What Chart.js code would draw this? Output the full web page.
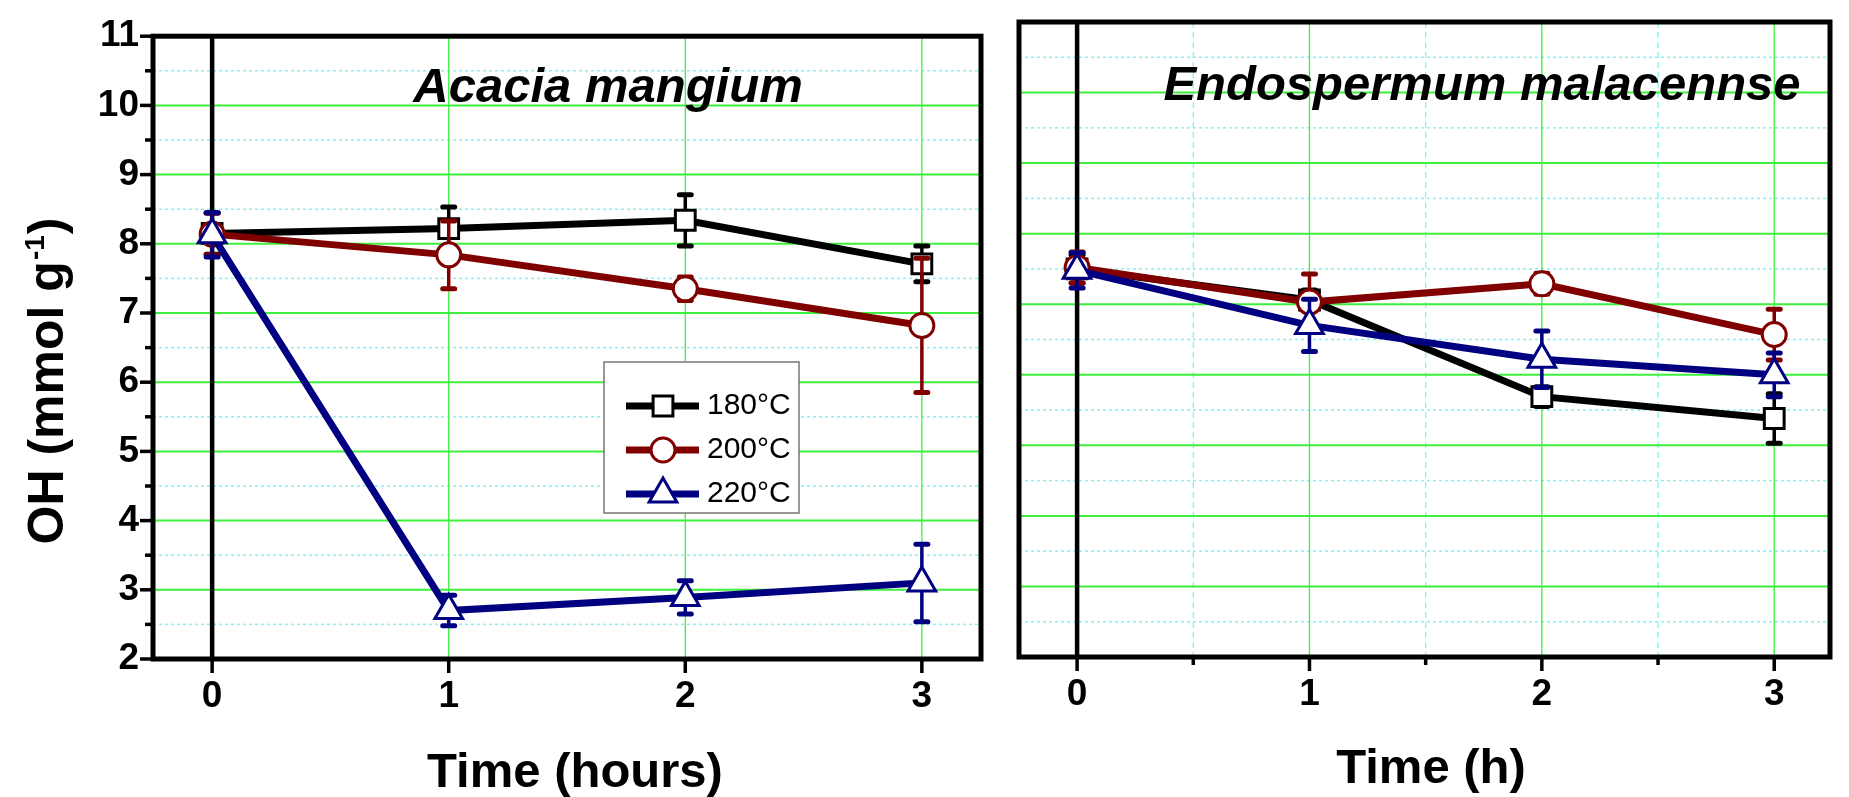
<!DOCTYPE html>
<html>
<head>
<meta charset="utf-8">
<title>OH (mmol g-1) vs Time</title>
<script src="https://cdn.jsdelivr.net/npm/chart.js@4.4.0/dist/chart.umd.min.js"></script>
<style>
  body { margin: 0; background: #ffffff; }
  #lienzo { position: relative; width: 1849px; height: 797px; overflow: hidden; }
  #izq { position: absolute; left: 0; top: 0; }
  #der { position: absolute; left: 1000px; top: 0; }
</style>
</head>
<body>
<div id="lienzo">
  <canvas id="izq" width="1000" height="797"></canvas>
  <canvas id="der" width="849" height="797"></canvas>
</div>
<script>
const FUENTE = "'Liberation Sans', Arial, sans-serif";
const VERDE = "#3cf03c";
const CIAN = "#7ff5f5";

let tiempos = [0, 1, 2, 3];
let temperaturas = ["180°C", "200°C", "220°C"];
let colores = ["#000000", "#800000", "#000080"];
let simbolos = ["rect", "circle", "triangle"];
let radios = [14, 12, 16];

let ticksY = [2, 3, 4, 5, 6, 7, 8, 9, 10, 11];
let ticksX = [0, 1, 2, 3];

// Acacia mangium
let acacia180 = [8.15, 8.22, 8.34, 7.71];
let acacia200 = [8.14, 7.84, 7.35, 6.82];
let acacia220 = [8.13, 2.70, 2.89, 3.10];
let acaciaErr180 = [0.30, 0.31, 0.37, 0.26];
let acaciaErr200 = [0.30, 0.49, 0.17, 0.97];
let acaciaErr220 = [0.32, 0.22, 0.24, 0.56];

// Endospermum malacennse
let endo180 = [7.50, 7.06, 5.69, 5.38];
let endo200 = [7.52, 7.03, 7.29, 6.57];
let endo220 = [7.48, 6.70, 6.22, 6.00];
let endoErr180 = [0.20, 0.14, 0.14, 0.35];
let endoErr200 = [0.22, 0.40, 0.15, 0.36];
let endoErr220 = [0.25, 0.37, 0.40, 0.31];

function crearDatasets(valores, errores) {
  return valores.map((serie, i) => ({
    label: temperaturas[i],
    data: tiempos.map((t, j) => ({ x: t, y: serie[j] })),
    errores: errores[i],
    borderColor: colores[i],
    backgroundColor: colores[i],
    borderWidth: 7,
    pointStyle: simbolos[i],
    pointRadius: radios[i],
    pointHoverRadius: radios[i],
    pointBorderWidth: 3,
    pointBackgroundColor: "#ffffff",
    pointBorderColor: colores[i],
    order: valores.length - i,
    tension: 0
  }));
}

function medios(lista) {
  let res = [];
  for (let i = 0; i < lista.length - 1; i++) res.push((lista[i] + lista[i + 1]) / 2);
  return res;
}

function linea(ctx, x1, y1, x2, y2) {
  ctx.beginPath();
  ctx.moveTo(x1, y1);
  ctx.lineTo(x2, y2);
  ctx.stroke();
}

function decoracion(cfg) {
  return {
    id: 'decoracion',
    beforeDatasetsDraw(chart) {
      const { ctx, chartArea: a, scales: { x, y } } = chart;
      ctx.save();
      // rejilla menor
      ctx.strokeStyle = CIAN;
      ctx.lineWidth = 1.5;
      ctx.setLineDash([3, 3]);
      medios(ticksY).forEach(v => {
        const py = y.getPixelForValue(v);
        linea(ctx, a.left, py, a.right, py);
      });
      if (cfg.menoresX) {
        ctx.lineWidth = 1.3;
        ctx.setLineDash([6, 4]);
        medios(ticksX).forEach(v => {
          const px = x.getPixelForValue(v);
          linea(ctx, px, a.top, px, a.bottom);
        });
      }
      // rejilla mayor
      ctx.setLineDash([]);
      ctx.strokeStyle = VERDE;
      ctx.lineWidth = 2;
      ticksY.forEach(v => {
        const py = y.getPixelForValue(v);
        linea(ctx, a.left, py, a.right, py);
      });
      ctx.lineWidth = 1.3;
      ticksX.forEach(v => {
        if (v === 0) return;
        const px = x.getPixelForValue(v);
        linea(ctx, px, a.top, px, a.bottom);
      });
      // linea negra en t = 0
      ctx.strokeStyle = "#000000";
      ctx.lineWidth = 4.5;
      const p0 = x.getPixelForValue(0);
      linea(ctx, p0, a.top, p0, a.bottom);
      ctx.restore();
    },
    beforeDatasetDraw(chart, args) {
      const ds = chart.data.datasets[args.index];
      const { ctx, scales: { x, y } } = chart;
      ctx.save();
      ctx.strokeStyle = ds.borderColor;
      ds.data.forEach((p, j) => {
        const e = ds.errores[j];
        const px = x.getPixelForValue(p.x);
        const arriba = y.getPixelForValue(p.y + e);
        const abajo = y.getPixelForValue(p.y - e);
        ctx.lineCap = 'butt';
        ctx.lineWidth = 3.5;
        linea(ctx, px, arriba, px, abajo);
        ctx.lineCap = 'round';
        ctx.lineWidth = 5;
        linea(ctx, px - 6, arriba, px + 6, arriba);
        linea(ctx, px - 6, abajo, px + 6, abajo);
      });
      ctx.restore();
    },
    afterDatasetsDraw(chart) {
      if (!cfg.leyenda) return;
      const ctx = chart.ctx;
      const L = cfg.leyenda;
      ctx.save();
      ctx.fillStyle = "#ffffff";
      ctx.fillRect(L.x, L.y, L.w, L.h);
      ctx.strokeStyle = "#777777";
      ctx.lineWidth = 1.5;
      ctx.strokeRect(L.x, L.y, L.w, L.h);
      chart.data.datasets.forEach((ds, i) => {
        const fy = L.filas[i];
        ctx.strokeStyle = ds.borderColor;
        ctx.lineWidth = 7;
        linea(ctx, L.x + 22, fy, L.x + 95, fy);
        ctx.fillStyle = "#ffffff";
        ctx.lineWidth = 3;
        Chart.helpers.drawPoint(ctx, {
          pointStyle: ds.pointStyle, radius: ds.pointRadius, borderWidth: 3, rotation: 0
        }, L.x + 59, fy);
        ctx.fillStyle = "#000000";
        ctx.font = "30px " + FUENTE;
        ctx.textAlign = 'left';
        ctx.textBaseline = 'middle';
        ctx.fillText(ds.label, L.x + 103, fy);
      });
      ctx.restore();
    },
    afterDraw(chart) {
      const { ctx, chartArea: a, scales: { x, y } } = chart;
      ctx.save();
      ctx.strokeStyle = "#000000";
      ctx.lineWidth = 3.5;
      if (cfg.marcasY) {
        ticksY.forEach(v => {
          const py = y.getPixelForValue(v);
          linea(ctx, a.left, py, a.left - 13, py);
        });
        medios(ticksY).forEach(v => {
          const py = y.getPixelForValue(v);
          linea(ctx, a.left, py, a.left - 8, py);
        });
      }
      ticksX.forEach(v => {
        const px = x.getPixelForValue(v);
        linea(ctx, px, a.bottom, px, a.bottom + 14);
      });
      if (cfg.menoresX) {
        medios(ticksX).forEach(v => {
          const px = x.getPixelForValue(v);
          linea(ctx, px, a.bottom, px, a.bottom + 8);
        });
      }
      ctx.lineWidth = 5;
      ctx.strokeRect(a.left, a.top, a.right - a.left, a.bottom - a.top);

      ctx.fillStyle = "#000000";
      ctx.textBaseline = 'alphabetic';
      ctx.textAlign = 'center';
      ctx.font = "italic bold 49px " + FUENTE;
      ctx.fillText(cfg.titulo, cfg.tituloX, cfg.tituloY);
      ctx.font = "bold 49px " + FUENTE;
      ctx.fillText(cfg.ejeX, cfg.ejeXx, cfg.ejeXy);

      if (cfg.ejeY) {
        ctx.translate(63, 382);
        ctx.rotate(-Math.PI / 2);
        ctx.textAlign = 'left';
        ctx.font = "bold 50px " + FUENTE;
        const w1 = ctx.measureText(cfg.ejeY[0]).width;
        const w3 = ctx.measureText(cfg.ejeY[2]).width;
        ctx.font = "bold 28px " + FUENTE;
        const w2 = ctx.measureText(cfg.ejeY[1]).width;
        const x0 = -(w1 + w2 + w3) / 2;
        ctx.font = "bold 50px " + FUENTE;
        ctx.fillText(cfg.ejeY[0], x0, 0);
        ctx.fillText(cfg.ejeY[2], x0 + w1 + w2 + 2, 0);
        ctx.font = "bold 28px " + FUENTE;
        ctx.fillText(cfg.ejeY[1], x0 + w1 + 1, -19);
      }
      ctx.restore();
    }
  };
}

const fuenteTicks = { family: FUENTE, size: 37, weight: 'bold' };

function opciones(padding, xMax, altoX, anchoY, mostrarY) {
  return {
    responsive: false,
    animation: false,
    events: [],
    layout: { padding: padding },
    plugins: { legend: { display: false }, tooltip: { enabled: false } },
    scales: {
      x: {
        type: 'linear',
        min: -0.25,
        max: xMax,
        afterBuildTicks: s => { s.ticks = ticksX.map(v => ({ value: v })); },
        afterFit: s => { s.height = altoX; },
        grid: { display: false, drawTicks: false },
        border: { display: false },
        ticks: { font: fuenteTicks, color: "#000000", padding: 16, callback: v => String(v) }
      },
      y: {
        type: 'linear',
        min: 2,
        max: 11,
        display: mostrarY,
        afterBuildTicks: s => { s.ticks = ticksY.map(v => ({ value: v })); },
        afterFit: s => { if (mostrarY) s.width = anchoY; },
        grid: { display: false, drawTicks: false },
        border: { display: false },
        ticks: { font: fuenteTicks, color: "#000000", padding: 14, callback: v => String(v) }
      }
    }
  };
}

new Chart(document.getElementById('izq'), {
  type: 'line',
  data: {
    datasets: crearDatasets([acacia180, acacia200, acacia220], [acaciaErr180, acaciaErr200, acaciaErr220])
  },
  options: opciones({ left: 0, right: 13, top: 26, bottom: 0 }, 3.25, 138, 153, true),
  plugins: [decoracion({
    titulo: "Acacia mangium", tituloX: 608, tituloY: 102,
    ejeX: "Time (hours)", ejeXx: 575, ejeXy: 787,
    ejeY: ["OH (mmol g", "-1", ")"],
    marcasY: true, menoresX: false,
    leyenda: { x: 604, y: 362, w: 195, h: 151, filas: [406, 450, 494] }
  })]
});

new Chart(document.getElementById('der'), {
  type: 'line',
  data: {
    datasets: crearDatasets([endo180, endo200, endo220], [endoErr180, endoErr200, endoErr220])
  },
  options: opciones({ left: 13.5, right: 2, top: 22, bottom: 0 }, 3.24, 140, 0, false),
  plugins: [decoracion({
    titulo: "Endospermum malacennse", tituloX: 482, tituloY: 100,
    ejeX: "Time (h)", ejeXx: 431, ejeXy: 783,
    ejeY: null,
    marcasY: false, menoresX: true,
    leyenda: null
  })]
});
</script>
</body>
</html>
